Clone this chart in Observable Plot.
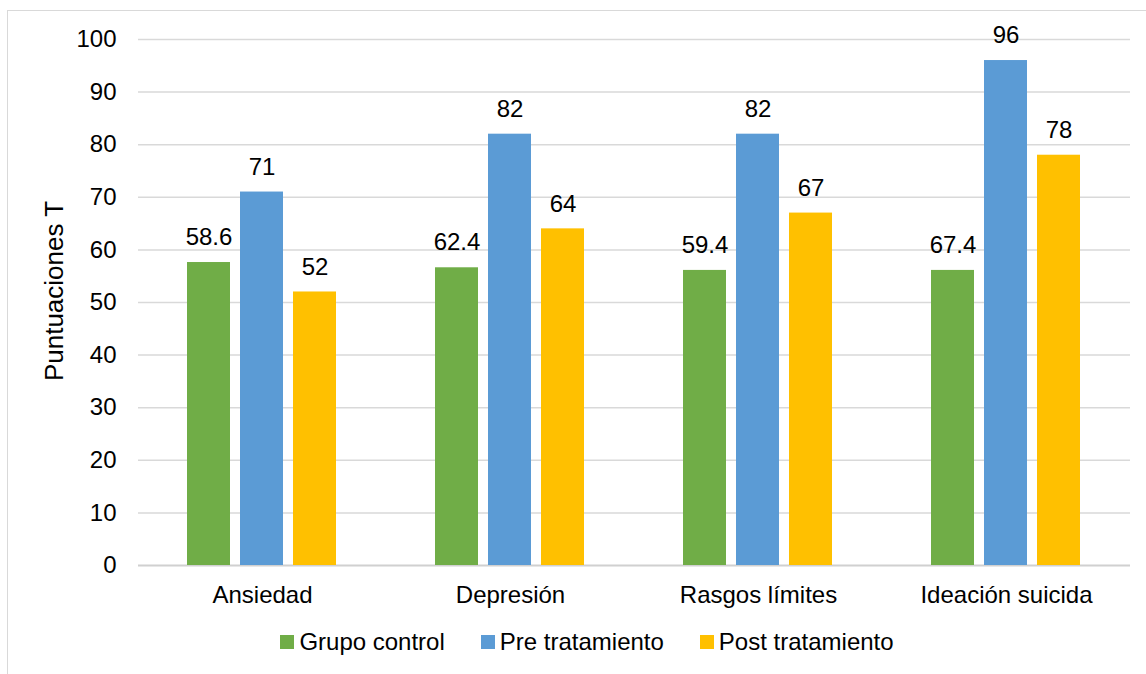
<!DOCTYPE html>
<html>
<head>
<meta charset="utf-8">
<script src="https://cdn.jsdelivr.net/npm/d3@7"></script>
<script src="https://cdn.jsdelivr.net/npm/@observablehq/plot@0.6"></script>
<style>
  html, body { margin: 0; padding: 0; background: #fff; }
  body { width: 1146px; height: 674px; position: relative; overflow: hidden; font-family: "Liberation Sans", Arial, sans-serif; }
  #frame { position: absolute; left: 7px; top: 10px; width: 1160px; height: 700px; border-left: 1.5px solid #d9d9d9; border-top: 1.5px solid #d9d9d9; }
  #chart { position: absolute; left: 0; top: 0; }
  #ylabel { position: absolute; left: 54px; top: 291px; transform: translate(-50%, -50%) rotate(-90deg); font-size: 26px; white-space: nowrap; color: #000; }
  #legend { position: absolute; left: 14px; top: 628px; width: 1146px; display: flex; justify-content: center; align-items: center; font-size: 24px; color: #000; }
  .item { display: flex; align-items: center; margin: 0 18px; }
  .sw { width: 14px; height: 14px; margin-right: 5px; }
</style>
</head>
<body>
<div id="frame"></div>
<div id="chart"></div>
<div id="ylabel">Puntuaciones T</div>
<div id="legend"></div>
<script>
const categories = ["Ansiedad", "Depresión", "Rasgos límites", "Ideación suicida"];
const series = ["Grupo control", "Pre tratamiento", "Post tratamiento"];
const colors = ["#70ad47", "#5b9bd5", "#ffc000"];
const grupoControl = [57.6, 56.6, 56.1, 56.1];
const preTratamiento = [71, 82, 82, 96];
const postTratamiento = [52, 64, 67, 78];
const grupoControlLabels = ["58.6", "62.4", "59.4", "67.4"];
const preTratamientoLabels = ["71", "82", "82", "96"];
const postTratamientoLabels = ["52", "64", "67", "78"];
const yTicks = [0, 10, 20, 30, 40, 50, 60, 70, 80, 90, 100];

const values = [grupoControl, preTratamiento, postTratamiento];
const labels = [grupoControlLabels, preTratamientoLabels, postTratamientoLabels];
const data = [];
categories.forEach((c, i) => series.forEach((s, j) => data.push({cat: c, series: s, value: values[j][i], label: labels[j][i]})));

const chart = Plot.plot({
  width: 1146,
  height: 610,
  marginLeft: 137,
  marginRight: 16,
  marginTop: 39,
  marginBottom: 45,
  style: {fontFamily: "'Liberation Sans', Arial, sans-serif", fontSize: "24px", color: "#000", background: "transparent"},
  fx: {domain: categories, padding: 0, label: null, axis: "bottom", tickSize: 0, tickPadding: 20},
  x: {domain: series, axis: null, paddingInner: 0.185, paddingOuter: 0.89},
  y: {domain: [0, 100], ticks: yTicks, tickSize: 0, tickPadding: 22, label: null, tickFormat: d => String(d)},
  color: {domain: series, range: colors},
  marks: [
    Plot.ruleY(yTicks.filter(d => d > 0), {stroke: "#d9d9d9", strokeWidth: 1.5}),
    Plot.ruleY([0], {stroke: "#d0d0d0", strokeWidth: 2}),
    Plot.barY(data, {fx: "cat", x: "series", y: "value", fill: "series"}),
    Plot.text(data, {fx: "cat", x: "series", y: "value", text: "label", dy: -25, fontSize: 24, fill: "#000"})
  ]
});
document.getElementById("chart").appendChild(chart);

const legend = document.getElementById("legend");
series.forEach((s, j) => {
  const it = document.createElement("div");
  it.className = "item";
  const sw = document.createElement("div");
  sw.className = "sw";
  sw.style.background = colors[j];
  const t = document.createElement("span");
  t.textContent = s;
  it.appendChild(sw);
  it.appendChild(t);
  legend.appendChild(it);
});
</script>
</body>
</html>
